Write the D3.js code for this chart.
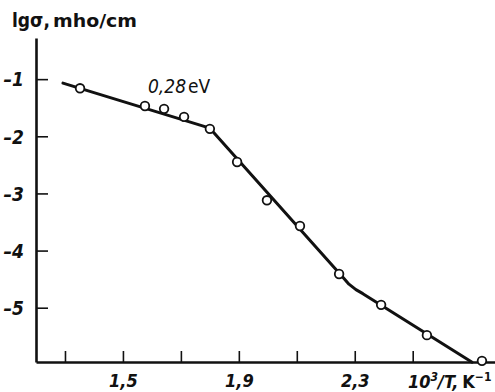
<!DOCTYPE html>
<html>
<head>
<meta charset="utf-8">
<script src="https://cdn.jsdelivr.net/npm/d3@7"></script>
<style>
  body { margin: 0; background: #fff; }
  svg { display: block; }
  text { fill: #111; font-family: "Liberation Sans Narrow", "DejaVu Sans Condensed", "Liberation Sans", sans-serif; }
</style>
</head>
<body>
<svg id="chart" width="495" height="392"></svg>
<script>
// measured points: 10^3/T (K^-1) vs lg sigma (mho/cm)
const invT   = [1.352, 1.576, 1.642, 1.711, 1.800, 1.894, 1.997, 2.111, 2.246, 2.391, 2.549, 2.739];
const lgSigma = [-1.16, -1.47, -1.52, -1.66, -1.87, -2.45, -3.12, -3.57, -4.41, -4.95, -5.48, -5.93];

// hand drawn fit line through the points
const fitX = [1.293, 1.800, 2.256, 2.280, 2.304, 2.328, 2.705];
const fitY = [-1.07, -1.858, -4.448, -4.588, -4.684, -4.754, -5.953];

const xTicks = [1.3, 1.5, 1.7, 1.9, 2.1, 2.3, 2.5];
const xLabels = {"1.5": "1,5", "1.9": "1,9", "2.3": "2,3"};
const yTicks = [-1, -2, -3, -4, -5];

var svg = d3.select("#chart");

const x = d3.scaleLinear().domain([1.2, 2.784]).range([36, 495]);
const y = d3.scaleLinear().domain([-5.95, -0.28]).range([362, 38]);

// y axis, ticks pointing right
var yAxis = svg.append("g")
    .attr("transform", "translate(" + x(1.2) + ",0)")
    .call(d3.axisLeft(y).tickValues(yTicks).tickSizeInner(-12).tickSizeOuter(0)
        .tickPadding(12).tickFormat(d => "\u2013" + Math.abs(d)));
yAxis.select(".domain").attr("stroke", "#111").attr("stroke-width", 2.6);
yAxis.selectAll(".tick line").attr("stroke", "#111").attr("stroke-width", 1.6);
yAxis.selectAll(".tick text")
    .attr("font-size", 19).attr("font-style", "italic").attr("font-weight", "bold")
    .attr("fill", "#111").attr("dy", "0.36em")
    .style("font-family", '"Liberation Sans Narrow", "DejaVu Sans Condensed", sans-serif');

// x axis, ticks pointing up
var xAxis = svg.append("g")
    .attr("transform", "translate(0," + y(-5.95) + ")")
    .call(d3.axisBottom(x).tickValues(xTicks).tickSizeInner(-11).tickSizeOuter(0)
        .tickPadding(12).tickFormat(d => xLabels[d.toFixed(1)] || ""));
xAxis.select(".domain").attr("stroke", "#111").attr("stroke-width", 2.6);
xAxis.selectAll(".tick line").attr("stroke", "#111").attr("stroke-width", 1.6);
xAxis.selectAll(".tick text")
    .attr("font-size", 18).attr("font-style", "italic").attr("font-weight", "bold")
    .attr("fill", "#111")
    .style("font-family", '"Liberation Sans Narrow", "DejaVu Sans Condensed", sans-serif');

// fit line
var line = d3.line()
    .x(function(d) { return x(d[0]); })
    .y(function(d) { return y(d[1]); });

svg.append("path")
    .datum(d3.zip(fitX, fitY))
    .attr("fill", "none")
    .attr("stroke", "#111")
    .attr("stroke-width", 3)
    .attr("stroke-linejoin", "round")
    .attr("stroke-linecap", "round")
    .attr("d", line);

// points
svg.selectAll("circle.pt")
    .data(d3.zip(invT, lgSigma))
    .enter().append("circle")
    .attr("class", "pt")
    .attr("cx", d => x(d[0]))
    .attr("cy", d => y(d[1]))
    .attr("r", 4.3)
    .attr("fill", "#fff")
    .attr("stroke", "#111")
    .attr("stroke-width", 1.8);

// axis titles and annotation
svg.append("text")
    .attr("x", 12).attr("y", 27)
    .attr("font-size", 19).attr("font-weight", "bold")
    .text("lg\u03c3,");
svg.append("text")
    .attr("x", 53).attr("y", 27)
    .attr("font-size", 18).attr("font-weight", "bold")
    .attr("textLength", 84).attr("lengthAdjust", "spacingAndGlyphs")
    .text("mho/cm");

var xt = svg.append("text")
    .attr("x", 408).attr("y", 388)
    .attr("font-size", 18).attr("font-weight", "bold");
xt.append("tspan").attr("font-style", "italic").text("10");
xt.append("tspan").attr("font-style", "italic").attr("font-size", 12).attr("dy", -7).text("3");
xt.append("tspan").attr("font-style", "italic").attr("dy", 7).text("/T,");
xt.append("tspan").attr("dx", 4).text("K");
xt.append("tspan").attr("font-size", 12).attr("dy", -7).text("\u22121");

var ann = svg.append("text")
    .attr("x", 148).attr("y", 93)
    .attr("font-size", 19);
ann.append("tspan").attr("font-style", "italic").text("0,28");
ann.append("tspan").attr("dx", 2).text("eV");
</script>
</body>
</html>
